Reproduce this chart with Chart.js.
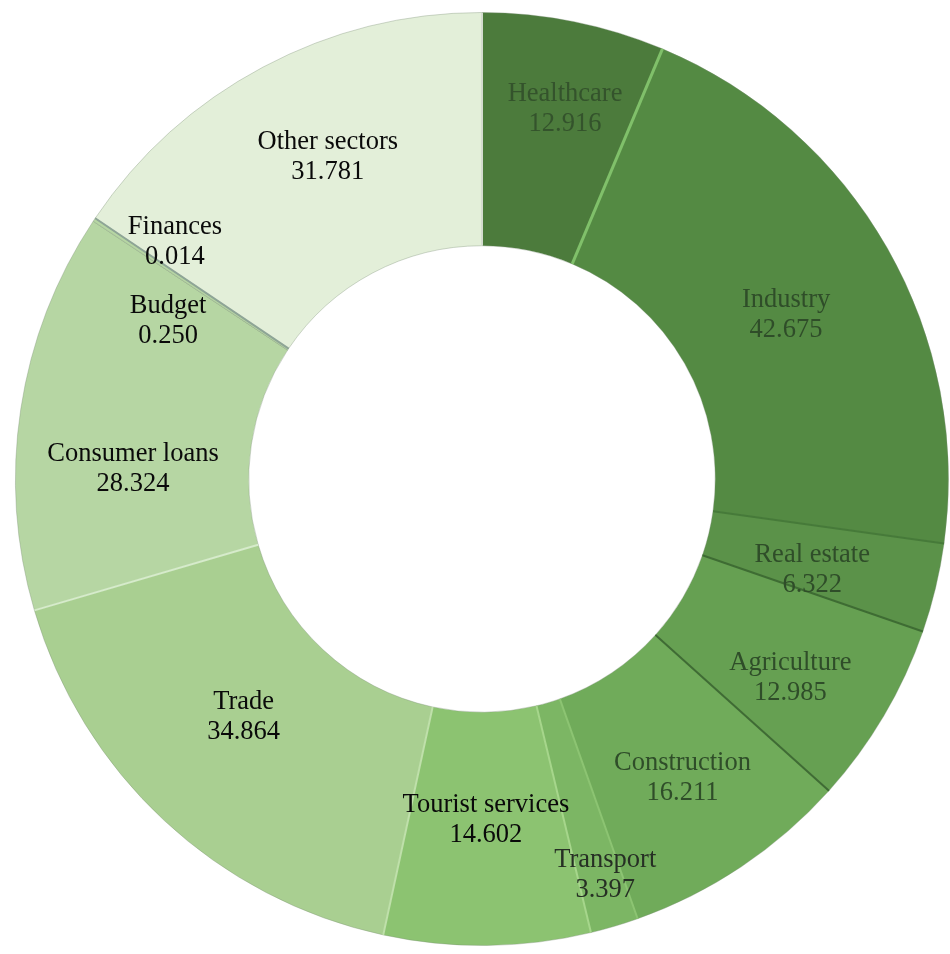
<!DOCTYPE html>
<html>
<head>
<meta charset="utf-8">
<script src="https://cdn.jsdelivr.net/npm/chart.js@4.4.1/dist/chart.umd.min.js"></script>
<style>
  html, body { margin: 0; padding: 0; background: #fff; overflow: hidden; }
</style>
</head>
<body>
<canvas id="chart-sectores" width="950" height="954"></canvas>
<script>
// Datos (en el sentido de las agujas del reloj desde arriba)
const sectores = ['Healthcare', 'Industry', 'Real estate', 'Agriculture', 'Construction', 'Transport',
  'Tourist services', 'Trade', 'Consumer loans', 'Budget', 'Finances', 'Other sectors'];
const valores = [12.916, 42.675, 6.322, 12.985, 16.211, 3.397, 14.602, 34.864, 28.324, 0.250, 0.014, 31.781];

const colores = ['#4c7b3c', '#548a43', '#5b9249', '#66a052', '#70ab5a', '#7cb664',
  '#8cc371', '#a9cf91', '#b6d6a3', '#b6d6a3', '#c8dfb9', '#e3efd9'];
const coloresTexto = ['#34532c', '#2f4d29', '#2f4d29', '#2f4d29', '#2f4d29', '#262f24',
  '#0a0a0a', '#0a0a0a', '#0a0a0a', '#0a0a0a', '#0a0a0a', '#0a0a0a'];
// línea al inicio de cada sector (null = sin línea)
const separadores = ['#d4dccf', '#80c06a', '#467a39', '#3e6c33', '#3f6b34', '#8cc472',
  '#a6d68b', '#bfe0aa', '#d6ebcb', null, '#8ea596', null];
// pequeño desplazamiento de cada etiqueta respecto al centro del sector [dx, dy]
const ajusteEtiquetas = [[14, -27], [0, 9], [-10, 9], [7, 21], [6, 8], [6, 0],
  [0, -9], [0, -18], [-3, 42], [-23, -5], [-17, -1], [10, -13]];

const etiquetasPlugin = {
  id: 'etiquetas',
  afterDatasetsDraw(chart) {
    const { ctx } = chart;
    const arcs = chart.getDatasetMeta(0).data;

    // separadores entre sectores
    arcs.forEach((arc, i) => {
      if (!separadores[i]) return;
      const { x, y, startAngle, innerRadius, outerRadius } = arc.getProps(['x', 'y', 'startAngle', 'innerRadius', 'outerRadius'], true);
      ctx.save();
      ctx.strokeStyle = separadores[i];
      ctx.lineWidth = i === 1 ? 3 : 2;
      ctx.beginPath();
      ctx.moveTo(x + Math.cos(startAngle) * innerRadius, y + Math.sin(startAngle) * innerRadius);
      ctx.lineTo(x + Math.cos(startAngle) * outerRadius, y + Math.sin(startAngle) * outerRadius);
      ctx.stroke();
      ctx.restore();
    });

    // textos
    let pequenos = 0;
    arcs.forEach((arc, i) => {
      const { x, y, startAngle, endAngle, innerRadius, outerRadius } = arc.getProps(['x', 'y', 'startAngle', 'endAngle', 'innerRadius', 'outerRadius'], true);
      const ang = endAngle - startAngle;
      const mid = (startAngle + endAngle) / 2;
      let f = 0.5;
      if (ang < 0.14 && ang > 0.03) f = 0.77;
      const r = innerRadius + (outerRadius - innerRadius) * f;
      let px = x + Math.cos(mid) * r + ajusteEtiquetas[i][0];
      let py = y + Math.sin(mid) * r + ajusteEtiquetas[i][1];
      if (ang <= 0.03) {
        py += pequenos === 0 ? 42 : -40;
        pequenos++;
      }
      ctx.save();
      ctx.font = '26.5px "Liberation Serif", "DejaVu Serif", serif';
      ctx.fillStyle = coloresTexto[i];
      ctx.textAlign = 'center';
      ctx.textBaseline = 'middle';
      ctx.fillText(sectores[i], px, py - 15);
      ctx.fillText(valores[i].toFixed(3), px, py + 15);
      ctx.restore();
    });
  }
};

new Chart(document.getElementById('chart-sectores'), {
  type: 'doughnut',
  data: {
    labels: sectores,
    datasets: [{
      data: valores,
      backgroundColor: colores,
      borderWidth: 1,
      borderColor: 'rgba(120,140,115,0.35)'
    }]
  },
  options: {
    responsive: false,
    animation: false,
    cutout: '50%',
    layout: { padding: { left: 15, top: 12, right: 1, bottom: 8 } },
    plugins: { legend: { display: false }, tooltip: { enabled: false } }
  },
  plugins: [etiquetasPlugin]
});
</script>
</body>
</html>
